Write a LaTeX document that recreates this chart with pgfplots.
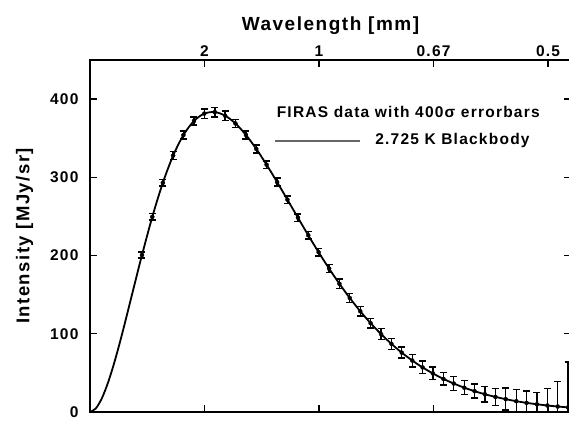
\documentclass[border=0pt]{standalone}
\usepackage{fontspec}
\setmainfont{Liberation Sans}[LetterSpace=8, UprightFont=* Bold]
\usepackage{pgfplots}
\usepackage{pgfplotstable}
\pgfplotsset{compat=1.18}
\pgfplotstableread{
x y e
2.27 200.7 4
2.72 249.5 4
3.18 293.0 4
3.63 327.8 5
4.08 354.1 5
4.54 372.1 5
4.99 381.5 6
5.45 383.4 6
5.90 378.8 6
6.35 368.9 5
6.81 354.1 5
7.26 336.3 5
7.71 316.1 5
8.17 293.9 5
8.62 271.4 5
9.08 248.3 5
9.53 225.9 5
9.98 204.3 5
10.44 183.3 5
10.89 163.9 6
11.34 145.8 6
11.80 128.8 6
12.25 113.6 6
12.71 99.5 7
13.16 87.1 7
13.61 75.9 7
14.07 65.8 8
14.52 57.0 8
14.97 49.3 8
15.43 42.3 8
15.88 36.4 9
16.34 31.1 9
16.79 26.6 9
17.24 22.7 10
17.70 19.3 11
18.15 16.4 14
18.61 13.8 15
19.06 11.7 15
19.51 9.9 15
19.97 8.3 22
20.42 7.0 32
20.87 5.9 58
}\firas
\pgfplotstableread{
x y
0 0
0.25 4.40
0.5 16.44
0.75 34.5
1.0 57.1
1.25 83.0
1.5 111.0
1.75 140.2
2.0 169.5
2.27 200.7
2.72 249.5
3.18 293.0
3.63 327.8
4.08 354.1
4.54 372.1
4.99 381.5
5.45 383.4
5.90 378.8
6.35 368.9
6.81 354.1
7.26 336.3
7.71 316.1
8.17 293.9
8.62 271.4
9.08 248.3
9.53 225.9
9.98 204.3
10.44 183.3
10.89 163.9
11.34 145.8
11.80 128.8
12.25 113.6
12.71 99.5
13.16 87.1
13.61 75.9
14.07 65.8
14.52 57.0
14.97 49.3
15.43 42.3
15.88 36.4
16.34 31.1
16.79 26.6
17.24 22.7
17.70 19.3
18.15 16.4
18.61 13.8
19.06 11.7
19.51 9.9
19.97 8.3
20.42 7.0
20.87 5.9
21.0 5.6
}\planck
\begin{document}
\begin{tikzpicture}
\begin{axis}[name=ax, scale only axis, width=481pt, height=352pt,
  xmin=0, xmax=21, ymin=0, ymax=450,
  xtick={5,10,15,20}, xticklabels={2,1,0.67,0.5}, xticklabel pos=upper,
  ytick={0,100,200,300,400},
  xlabel={Wavelength [mm]}, ylabel={Intensity [MJy/sr]},
  tick align=inside, major tick length=7pt,
  axis line style={line width=1.5pt}, tick style={line width=1.4pt, black},
  every tick label/.append style={font=\fontsize{15.5}{15.5}\selectfont},
  yticklabel style={xshift=-8pt},
  /pgf/number format/assume math mode=true,
  xlabel style={font=\fontsize{19}{19}\selectfont},
  xlabel shift=4pt,
  ylabel style={font=\fontsize{18.5}{18.5}\selectfont},
  ylabel shift=10pt,
  clip=true]
\addplot[black, line width=1.8pt, smooth] table[x=x, y=y] {\planck};
\addplot[black, only marks, mark=*, mark size=2pt,
  error bars/.cd, y dir=both, y explicit,
  error bar style={line width=1.5pt, black},
  error mark options={rotate=90, mark size=3.5pt, line width=1.5pt, black}]
  table[x=x, y=y, y error=e] {\firas};
\node[anchor=west, font=\fontsize{15.5}{15.5}\selectfont] at (axis cs:8.0,383) {FIRAS data with 400σ errorbars};
\draw[black!60, line width=2.2pt] (axis cs:8.08,346.5) -- (axis cs:11.8,346.5);
\node[anchor=west, font=\fontsize{15.5}{15.5}\selectfont] at (axis cs:12.3,346.5) {2.725 K Blackbody};
\end{axis}
\pgfresetboundingbox
\path[use as bounding box] ([shift={(-90pt,-12pt)}]ax.south west) rectangle ([shift={(479pt,60pt)}]ax.north west);
\end{tikzpicture}
\end{document}
